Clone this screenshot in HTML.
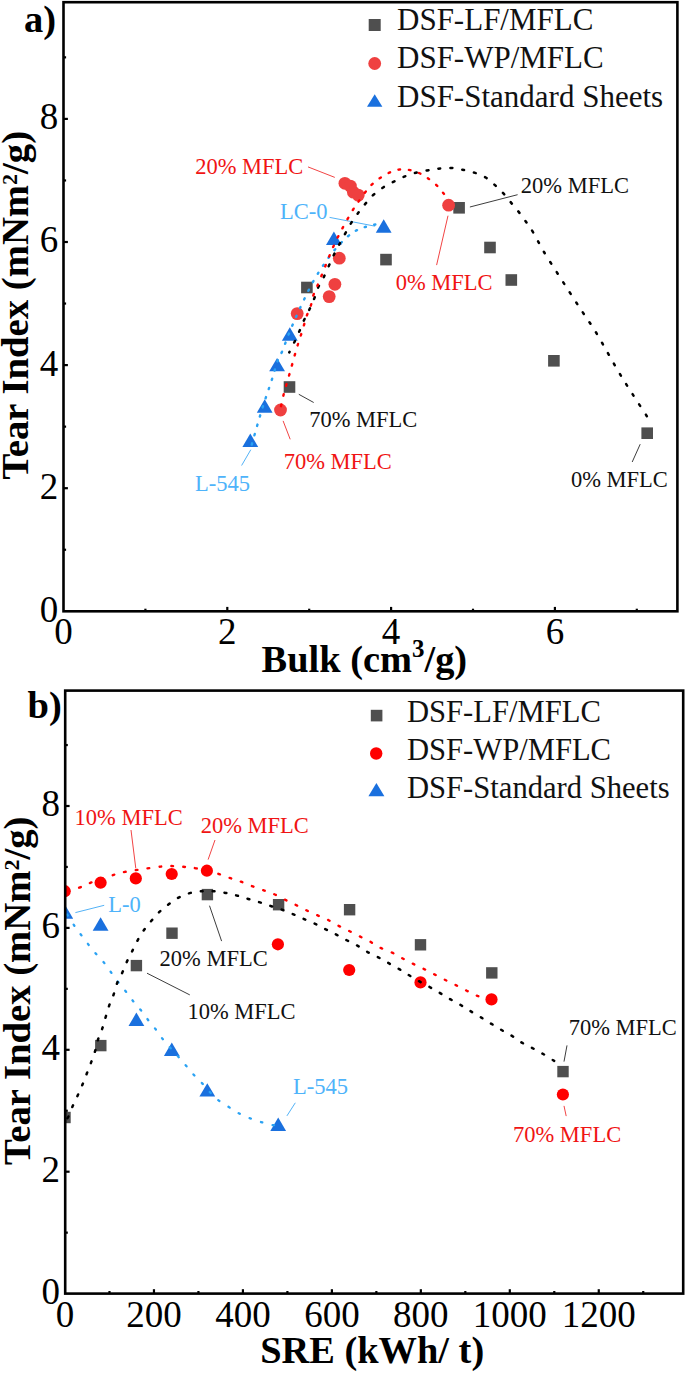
<!DOCTYPE html>
<html><head><meta charset="utf-8"><title>Tear index plots</title>
<style>html,body{margin:0;padding:0;background:#fff;} svg{display:block;}</style>
</head><body>
<svg width="685" height="1373" viewBox="0 0 685 1373" font-family='"Liberation Serif", serif'>
<rect width="685" height="1373" fill="#fff"/>
<g id="plotA">
<line x1="308" y1="166.9" x2="334.8" y2="177.4" stroke="#f03a3a" stroke-width="0.95"/>
<line x1="329.6" y1="217.4" x2="375.1" y2="226.2" stroke="#4aaef5" stroke-width="0.95"/>
<line x1="469.9" y1="207" x2="517.6" y2="194.7" stroke="#333333" stroke-width="0.95"/>
<line x1="448" y1="215.7" x2="436.6" y2="265.1" stroke="#f03a3a" stroke-width="0.95"/>
<line x1="298.8" y1="394.3" x2="313.7" y2="402.5" stroke="#333333" stroke-width="0.95"/>
<line x1="283.1" y1="420.9" x2="290.2" y2="439.3" stroke="#f03a3a" stroke-width="0.95"/>
<line x1="250.8" y1="449.7" x2="241.6" y2="465.5" stroke="#4aaef5" stroke-width="0.95"/>
<line x1="640.2" y1="444.2" x2="632.2" y2="462" stroke="#333333" stroke-width="0.95"/>
<rect x="283.70" y="381.20" width="11.6" height="11.6" fill="#4f4f4f"/>
<rect x="301.10" y="281.70" width="11.6" height="11.6" fill="#4f4f4f"/>
<rect x="380.20" y="253.80" width="11.6" height="11.6" fill="#4f4f4f"/>
<rect x="453.30" y="202.00" width="11.6" height="11.6" fill="#4f4f4f"/>
<rect x="484.20" y="241.70" width="11.6" height="11.6" fill="#4f4f4f"/>
<rect x="505.50" y="274.20" width="11.6" height="11.6" fill="#4f4f4f"/>
<rect x="548.10" y="355.00" width="11.6" height="11.6" fill="#4f4f4f"/>
<rect x="641.40" y="427.40" width="11.6" height="11.6" fill="#4f4f4f"/>
<circle cx="280.50" cy="410.00" r="6.4" fill="#ef4040"/>
<circle cx="297.20" cy="313.60" r="6.4" fill="#ef4040"/>
<circle cx="329.20" cy="296.60" r="6.4" fill="#ef4040"/>
<circle cx="334.90" cy="284.30" r="6.4" fill="#ef4040"/>
<circle cx="339.30" cy="258.20" r="6.4" fill="#ef4040"/>
<circle cx="344.90" cy="183.30" r="6.4" fill="#ef4040"/>
<circle cx="350.40" cy="186.10" r="6.4" fill="#ef4040"/>
<circle cx="353.40" cy="192.20" r="6.4" fill="#ef4040"/>
<circle cx="358.30" cy="195.10" r="6.4" fill="#ef4040"/>
<circle cx="448.60" cy="205.20" r="6.4" fill="#ef4040"/>
<path d="M250.30,433.50 L258.20,446.90 L242.40,446.90 Z" fill="#1a70de"/>
<path d="M264.70,399.30 L272.60,412.70 L256.80,412.70 Z" fill="#1a70de"/>
<path d="M277.10,357.90 L285.00,371.30 L269.20,371.30 Z" fill="#1a70de"/>
<path d="M289.80,327.30 L297.70,340.70 L281.90,340.70 Z" fill="#1a70de"/>
<path d="M333.90,231.60 L341.80,245.00 L326.00,245.00 Z" fill="#1a70de"/>
<path d="M383.70,219.30 L391.60,232.70 L375.80,232.70 Z" fill="#1a70de"/>
<path d="M250.5,449.0 C252.0,443.9 256.8,426.7 259.3,418.3 C261.8,409.9 263.3,405.2 265.4,398.8 C267.5,392.4 269.8,386.2 271.8,379.8 C273.9,373.4 275.9,365.5 277.7,360.7 C279.4,355.9 280.4,355.6 282.3,351.0 C284.2,346.4 286.8,338.9 289.2,333.0 C291.6,327.1 294.2,321.1 296.7,315.5 C299.2,309.9 301.5,304.9 304.3,299.1 C307.1,293.4 310.3,286.7 313.5,281.0 C316.7,275.3 319.8,270.4 323.4,265.1 C327.0,259.8 331.2,253.9 335.2,249.2 C339.2,244.5 343.9,239.9 347.4,236.8 C350.9,233.7 353.2,232.2 356.1,230.6 C359.0,229.0 361.6,228.1 364.8,227.1 C368.0,226.1 372.3,225.1 375.3,224.5 C378.3,223.9 381.7,223.9 383.0,223.8" fill="none" stroke="#2aa2f3" stroke-width="2.4" stroke-dasharray="1.3 8.36" stroke-dashoffset="5.03" stroke-linecap="round"/>
<path d="M289.3,352.4 C290.2,350.6 292.9,345.2 294.6,341.7 C296.3,338.2 297.8,334.8 299.4,331.2 C301.0,327.6 302.4,323.6 304.1,320.0 C305.8,316.4 307.8,312.9 309.5,309.3 C311.2,305.7 313.0,301.7 314.4,298.1 C315.8,294.5 316.5,291.1 318.1,287.6 C319.7,284.1 321.3,282.4 323.9,276.9 C326.5,271.4 330.4,261.9 333.9,254.8 C337.4,247.7 342.1,239.4 344.9,234.2 C347.7,229.0 348.5,227.3 350.8,223.6 C353.1,219.9 356.2,215.6 358.7,212.2 C361.2,208.8 363.2,206.3 365.7,203.4 C368.2,200.5 370.5,197.5 373.6,194.7 C376.7,191.9 380.6,189.1 384.1,186.8 C387.6,184.6 391.1,182.9 394.6,181.2 C398.1,179.4 401.6,177.7 405.1,176.3 C408.6,174.9 412.0,173.8 415.6,172.8 C419.2,171.8 423.4,171.2 427.0,170.5 C430.6,169.8 433.6,169.2 437.5,168.8 C441.4,168.4 446.6,167.8 450.7,167.9 C454.8,168.0 458.1,168.8 462.0,169.6 C465.9,170.4 470.4,171.3 474.3,172.6 C478.2,173.9 482.2,175.4 485.7,177.5 C489.2,179.6 492.2,182.6 495.3,185.4 C498.4,188.2 501.3,191.1 504.1,194.2 C506.9,197.3 509.4,200.6 512.0,203.8 C514.6,207.0 517.4,210.2 519.9,213.4 C522.4,216.6 524.6,219.7 526.9,223.1 C529.2,226.5 531.1,228.9 533.9,233.6 C536.6,238.2 539.5,244.4 543.4,251.0 C547.3,257.6 552.9,266.2 557.4,273.2 C561.9,280.2 565.9,286.5 570.2,293.1 C574.5,299.7 579.0,306.7 583.1,312.9 C587.2,319.1 590.7,323.8 594.8,330.4 C598.9,337.0 603.3,345.2 607.6,352.6 C611.9,360.0 616.3,368.0 620.4,374.8 C624.5,381.6 627.6,386.5 632.1,393.5 C636.6,400.5 644.8,413.0 647.3,416.9" fill="none" stroke="#000000" stroke-width="2.5" stroke-dasharray="1.9 10.09" stroke-dashoffset="1.10" stroke-linecap="round"/>
<path d="M280.8,407.0 C281.3,404.8 282.9,397.4 283.8,393.7 C284.7,390.0 285.4,388.1 286.4,384.7 C287.4,381.3 288.7,376.7 289.7,373.3 C290.7,369.9 291.3,367.4 292.2,364.3 C293.1,361.2 294.0,357.7 294.9,354.6 C295.8,351.5 296.6,348.9 297.5,345.8 C298.4,342.7 299.5,339.6 300.6,336.1 C301.7,332.6 303.1,328.1 304.1,324.6 C305.2,321.1 305.8,318.4 306.9,315.3 C308.0,312.2 309.6,309.3 310.7,306.0 C311.8,302.7 312.1,299.0 313.2,295.7 C314.3,292.4 315.2,291.0 317.3,286.0 C319.4,281.0 322.8,272.4 325.5,265.7 C328.2,259.0 330.7,252.3 333.6,246.0 C336.5,239.7 339.6,233.5 342.8,227.6 C346.0,221.7 350.1,214.6 352.6,210.4 C355.1,206.2 355.3,206.1 357.8,202.6 C360.3,199.1 364.5,192.9 367.4,189.4 C370.3,185.9 372.8,183.6 375.3,181.5 C377.8,179.4 379.7,178.2 382.3,176.6 C384.9,175.0 388.1,173.1 391.1,171.9 C394.1,170.7 397.2,169.7 400.4,169.4 C403.6,169.1 406.8,169.4 410.1,170.1 C413.4,170.8 417.2,172.2 420.1,173.5 C423.0,174.8 424.8,176.1 427.4,177.9 C430.0,179.7 433.2,182.1 435.8,184.5 C438.4,186.9 440.7,189.8 442.8,192.4 C444.9,195.0 447.3,198.7 448.2,200.0" fill="none" stroke="#ff0000" stroke-width="2.4" stroke-dasharray="1.6 8.87" stroke-dashoffset="9.45" stroke-linecap="round"/>
<text x="195.2" y="173.6" font-size="22.5" fill="#f01414" text-anchor="start" font-weight="normal" >20% MFLC</text>
<text x="279.9" y="218.7" font-size="22.5" fill="#4eb3fa" text-anchor="start" font-weight="normal" >LC-0</text>
<text x="520.8" y="192.5" font-size="22.5" fill="#111111" text-anchor="start" font-weight="normal" >20% MFLC</text>
<text x="395.7" y="289.8" font-size="22.5" fill="#f01414" text-anchor="start" font-weight="normal" >0% MFLC</text>
<text x="309.2" y="426.8" font-size="22.5" fill="#111111" text-anchor="start" font-weight="normal" >70% MFLC</text>
<text x="283.7" y="469.2" font-size="22.5" fill="#f01414" text-anchor="start" font-weight="normal" >70% MFLC</text>
<text x="195.1" y="490.6" font-size="22.5" fill="#4eb3fa" text-anchor="start" font-weight="normal" >L-545</text>
<text x="570.9" y="486.6" font-size="22.5" fill="#111111" text-anchor="start" font-weight="normal" >0% MFLC</text>
<rect x="368.70" y="19.00" width="12" height="12" fill="#4f4f4f"/>
<circle cx="374.70" cy="63.50" r="6.4" fill="#ef4040"/>
<path d="M374.70,94.20 L382.40,106.80 L367.00,106.80 Z" fill="#1a70de"/>
<text x="397" y="30" font-size="31" fill="#111111" text-anchor="start" font-weight="normal" >DSF-LF/MFLC</text>
<text x="397" y="68.1" font-size="31" fill="#111111" text-anchor="start" font-weight="normal" >DSF-WP/MFLC</text>
<text x="397" y="107" font-size="31" fill="#111111" text-anchor="start" font-weight="normal" >DSF-Standard Sheets</text>
<rect x="63.5" y="2.2" width="613.9" height="609.1" fill="none" stroke="#000" stroke-width="2.6"/>
<line x1="63.5" y1="549.75" x2="66.1" y2="549.75" stroke="#000" stroke-width="2.2"/>
<line x1="63.5" y1="488.20" x2="67.9" y2="488.20" stroke="#000" stroke-width="2.2"/>
<line x1="63.5" y1="426.65" x2="66.1" y2="426.65" stroke="#000" stroke-width="2.2"/>
<line x1="63.5" y1="365.10" x2="67.9" y2="365.10" stroke="#000" stroke-width="2.2"/>
<line x1="63.5" y1="303.55" x2="66.1" y2="303.55" stroke="#000" stroke-width="2.2"/>
<line x1="63.5" y1="242.00" x2="67.9" y2="242.00" stroke="#000" stroke-width="2.2"/>
<line x1="63.5" y1="180.45" x2="66.1" y2="180.45" stroke="#000" stroke-width="2.2"/>
<line x1="63.5" y1="118.90" x2="67.9" y2="118.90" stroke="#000" stroke-width="2.2"/>
<line x1="63.5" y1="57.35" x2="66.1" y2="57.35" stroke="#000" stroke-width="2.2"/>
<line x1="145.40" y1="611.3" x2="145.40" y2="608.6999999999999" stroke="#000" stroke-width="2.2"/>
<line x1="227.30" y1="611.3" x2="227.30" y2="606.9" stroke="#000" stroke-width="2.2"/>
<line x1="309.20" y1="611.3" x2="309.20" y2="608.6999999999999" stroke="#000" stroke-width="2.2"/>
<line x1="391.10" y1="611.3" x2="391.10" y2="606.9" stroke="#000" stroke-width="2.2"/>
<line x1="473.00" y1="611.3" x2="473.00" y2="608.6999999999999" stroke="#000" stroke-width="2.2"/>
<line x1="554.90" y1="611.3" x2="554.90" y2="606.9" stroke="#000" stroke-width="2.2"/>
<line x1="636.80" y1="611.3" x2="636.80" y2="608.6999999999999" stroke="#000" stroke-width="2.2"/>
<text x="58.2" y="621.7" font-size="37" fill="#000" text-anchor="end" font-weight="normal" >0</text>
<text x="58.2" y="498.6" font-size="37" fill="#000" text-anchor="end" font-weight="normal" >2</text>
<text x="58.2" y="375.5" font-size="37" fill="#000" text-anchor="end" font-weight="normal" >4</text>
<text x="58.2" y="252.4" font-size="37" fill="#000" text-anchor="end" font-weight="normal" >6</text>
<text x="58.2" y="129.3" font-size="37" fill="#000" text-anchor="end" font-weight="normal" >8</text>
<text x="63.5" y="644.3" font-size="37" fill="#000" text-anchor="middle" font-weight="normal" >0</text>
<text x="227.3" y="644.3" font-size="37" fill="#000" text-anchor="middle" font-weight="normal" >2</text>
<text x="391.1" y="644.3" font-size="37" fill="#000" text-anchor="middle" font-weight="normal" >4</text>
<text x="554.9" y="644.3" font-size="37" fill="#000" text-anchor="middle" font-weight="normal" >6</text>
<text x="23.9" y="32" font-size="38.5" font-weight="bold" fill="#000">a)</text>
<text x="261.6" y="671.8" font-size="38.4" font-weight="bold" fill="#000">Bulk (cm<tspan font-size="25" dy="-15.1">3</tspan><tspan dy="15.1">/g)</tspan></text>
<text transform="translate(28.1,305.2) rotate(-90)" font-size="38.7" font-weight="bold" text-anchor="middle" fill="#000">Tear Index (mNm<tspan font-size="22" dy="-11.2">2</tspan><tspan dy="11.2">/g)</tspan></text>
</g>
<clipPath id="cb"><rect x="65.2" y="690.6" width="618" height="603"/></clipPath>
<g id="plotB">
<line x1="131" y1="830" x2="135.8" y2="868.4" stroke="#f03a3a" stroke-width="0.95"/>
<line x1="215" y1="840" x2="208.1" y2="859.6" stroke="#f03a3a" stroke-width="0.95"/>
<line x1="75.4" y1="912.6" x2="104.2" y2="905.3" stroke="#4aaef5" stroke-width="0.95"/>
<line x1="209.5" y1="905.7" x2="221.6" y2="941.1" stroke="#333333" stroke-width="0.95"/>
<line x1="147" y1="973.2" x2="189.8" y2="994.9" stroke="#333333" stroke-width="0.95"/>
<line x1="286.9" y1="1115.9" x2="295.3" y2="1102.8" stroke="#4aaef5" stroke-width="0.95"/>
<line x1="567" y1="1045.4" x2="564" y2="1061.6" stroke="#333333" stroke-width="0.95"/>
<line x1="564" y1="1105.9" x2="566.2" y2="1116.1" stroke="#f03a3a" stroke-width="0.95"/>
<g clip-path="url(#cb)">
<rect x="59.30" y="1111.80" width="11.4" height="11.4" fill="#4f4f4f"/>
<rect x="95.10" y="1039.90" width="11.4" height="11.4" fill="#4f4f4f"/>
<rect x="130.70" y="959.90" width="11.4" height="11.4" fill="#4f4f4f"/>
<rect x="166.30" y="927.50" width="11.4" height="11.4" fill="#4f4f4f"/>
<rect x="201.70" y="888.90" width="11.4" height="11.4" fill="#4f4f4f"/>
<rect x="272.90" y="899.00" width="11.4" height="11.4" fill="#4f4f4f"/>
<rect x="343.90" y="904.00" width="11.4" height="11.4" fill="#4f4f4f"/>
<rect x="414.80" y="939.10" width="11.4" height="11.4" fill="#4f4f4f"/>
<rect x="486.10" y="967.20" width="11.4" height="11.4" fill="#4f4f4f"/>
<rect x="557.30" y="1065.90" width="11.4" height="11.4" fill="#4f4f4f"/>
<circle cx="64.70" cy="891.20" r="6.1" fill="#ff0000"/>
<circle cx="100.60" cy="882.70" r="6.1" fill="#ff0000"/>
<circle cx="135.80" cy="878.40" r="6.1" fill="#ff0000"/>
<circle cx="171.70" cy="874.00" r="6.1" fill="#ff0000"/>
<circle cx="206.90" cy="870.70" r="6.1" fill="#ff0000"/>
<circle cx="277.90" cy="944.30" r="6.1" fill="#ff0000"/>
<circle cx="349.20" cy="970.00" r="6.1" fill="#ff0000"/>
<circle cx="420.50" cy="982.40" r="6.1" fill="#ff0000"/>
<circle cx="491.50" cy="999.40" r="6.1" fill="#ff0000"/>
<circle cx="562.90" cy="1094.50" r="6.1" fill="#ff0000"/>
<path d="M65.30,905.30 L73.20,918.70 L57.40,918.70 Z" fill="#1a70de"/>
<path d="M100.60,917.30 L108.50,930.70 L92.70,930.70 Z" fill="#1a70de"/>
<path d="M136.40,1012.60 L144.30,1026.00 L128.50,1026.00 Z" fill="#1a70de"/>
<path d="M171.80,1042.60 L179.70,1056.00 L163.90,1056.00 Z" fill="#1a70de"/>
<path d="M207.30,1083.20 L215.20,1096.60 L199.40,1096.60 Z" fill="#1a70de"/>
<path d="M278.20,1117.50 L286.10,1130.90 L270.30,1130.90 Z" fill="#1a70de"/>
<path d="M65.0,911.0 C66.5,913.4 71.3,921.2 74.0,925.2 C76.7,929.2 78.6,931.6 81.0,934.8 C83.4,938.0 85.8,941.2 88.3,944.4 C90.8,947.6 93.6,950.9 96.2,954.0 C98.8,957.1 101.6,959.7 104.1,962.8 C106.6,965.9 108.8,969.2 111.1,972.4 C113.4,975.6 115.6,978.8 118.1,982.0 C120.6,985.2 123.5,988.5 126.0,991.7 C128.5,994.9 130.5,997.9 133.0,1001.0 C135.5,1004.1 138.3,1007.0 140.8,1010.1 C143.3,1013.2 145.4,1016.5 147.9,1019.7 C150.4,1022.9 153.2,1026.1 155.7,1029.3 C158.2,1032.5 160.2,1035.9 162.7,1039.0 C165.2,1042.1 167.9,1045.0 170.5,1048.0 C173.1,1051.0 175.8,1053.8 178.4,1056.8 C181.0,1059.8 183.7,1062.9 186.3,1066.0 C188.9,1069.1 191.6,1072.4 194.2,1075.2 C196.8,1078.0 199.5,1080.5 202.0,1083.1 C204.5,1085.7 206.6,1088.4 209.0,1091.0 C211.4,1093.6 213.3,1096.2 216.5,1098.8 C219.7,1101.4 224.6,1104.3 228.3,1106.7 C232.0,1109.1 235.1,1111.3 238.8,1113.3 C242.5,1115.3 246.7,1117.0 250.6,1118.5 C254.5,1120.0 258.8,1121.4 262.5,1122.5 C266.2,1123.6 270.4,1124.7 273.0,1125.1 C275.6,1125.5 277.2,1125.0 278.0,1125.0" fill="none" stroke="#2aa2f3" stroke-width="2.3" stroke-dasharray="1.4 10.60" stroke-dashoffset="7.95" stroke-linecap="round"/>
<path d="M65.0,1121.0 C65.5,1120.3 66.8,1119.5 68.1,1117.1 C69.3,1114.7 70.9,1110.2 72.5,1106.6 C74.1,1102.9 76.1,1099.0 77.8,1095.2 C79.5,1091.5 81.2,1087.8 82.7,1084.1 C84.2,1080.4 85.5,1077.0 86.9,1073.3 C88.3,1069.6 89.9,1065.7 91.3,1061.9 C92.7,1058.1 94.2,1054.1 95.3,1050.4 C96.4,1046.7 96.7,1043.6 97.9,1039.9 C99.1,1036.2 101.0,1032.4 102.3,1028.5 C103.6,1024.6 104.6,1020.6 105.8,1016.7 C107.0,1012.8 108.0,1008.9 109.3,1005.2 C110.6,1001.5 112.4,998.0 113.7,994.3 C115.0,990.6 115.8,986.5 117.2,982.9 C118.7,979.2 120.8,975.9 122.4,972.4 C124.0,968.9 125.2,965.4 126.8,961.9 C128.4,958.4 130.3,954.9 132.1,951.4 C133.8,947.9 135.3,944.5 137.3,940.9 C139.3,937.3 141.9,933.0 144.2,929.7 C146.5,926.4 148.7,923.9 151.2,921.0 C153.7,918.1 156.2,915.0 159.1,912.2 C162.0,909.4 165.3,906.8 168.7,904.3 C172.0,901.8 175.5,899.2 179.2,897.3 C182.8,895.4 186.6,893.9 190.6,892.9 C194.6,891.9 199.1,891.5 202.9,891.2 C206.7,890.9 209.6,890.9 213.4,891.2 C217.2,891.5 221.6,892.1 225.6,892.9 C229.6,893.6 233.6,894.7 237.5,895.7 C241.4,896.8 245.3,898.0 249.2,899.2 C253.1,900.4 257.2,901.5 260.9,902.7 C264.6,903.9 267.9,905.0 271.4,906.2 C274.9,907.4 278.2,908.3 281.9,909.7 C285.6,911.1 289.9,912.8 293.6,914.4 C297.3,916.0 300.4,917.5 304.1,919.1 C307.8,920.7 312.1,922.5 315.8,924.2 C319.5,926.0 322.8,927.8 326.3,929.6 C329.8,931.4 333.3,933.1 336.8,934.9 C340.3,936.7 343.8,938.7 347.3,940.5 C350.8,942.3 354.5,944.0 357.8,945.9 C361.1,947.8 363.7,949.8 367.2,951.8 C370.7,953.8 375.2,955.7 378.8,957.6 C382.4,959.5 385.3,961.3 388.7,963.2 C392.1,965.1 395.9,967.2 399.2,969.1 C402.5,971.0 405.2,972.9 408.5,974.9 C411.8,976.9 415.5,979.2 419.0,981.2 C422.5,983.2 426.1,985.0 429.6,987.0 C433.1,989.0 436.6,991.0 440.1,993.1 C443.6,995.2 447.1,997.4 450.6,999.4 C454.1,1001.4 457.8,1003.3 461.1,1005.3 C464.4,1007.2 467.1,1009.1 470.4,1011.1 C473.7,1013.1 477.5,1015.3 481.0,1017.4 C484.5,1019.5 488.0,1021.8 491.5,1023.9 C495.0,1026.0 498.5,1028.2 502.0,1030.3 C505.5,1032.4 509.2,1034.2 512.5,1036.3 C515.8,1038.3 518.5,1040.6 521.8,1042.6 C525.1,1044.6 528.8,1046.2 532.4,1048.1 C536.0,1050.0 539.6,1051.9 543.2,1054.0 C546.8,1056.1 551.4,1059.1 554.0,1060.8 C556.6,1062.5 558.2,1063.5 559.0,1064.0" fill="none" stroke="#000000" stroke-width="2.5" stroke-dasharray="1.9 10.03" stroke-dashoffset="7.97" stroke-linecap="round"/>
<path d="M65.0,891.0 C67.5,890.4 75.4,888.9 79.7,887.5 C84.0,886.1 85.0,884.8 90.7,882.7 C96.4,880.6 108.2,876.6 113.9,874.8 C119.6,873.0 120.3,872.8 124.9,871.9 C129.5,871.0 135.5,870.2 141.5,869.3 C147.5,868.4 155.4,867.1 160.8,866.6 C166.2,866.1 169.9,866.0 174.0,866.1 C178.1,866.2 181.5,866.6 185.3,867.0 C189.1,867.4 191.7,867.4 196.7,868.4 C201.7,869.4 209.5,871.2 215.1,872.8 C220.7,874.4 226.2,876.7 230.5,878.2 C234.8,879.7 237.3,880.3 241.0,881.7 C244.7,883.1 248.8,884.9 252.7,886.4 C256.6,887.9 260.7,889.2 264.4,890.6 C268.1,892.0 271.4,893.0 274.9,894.5 C278.4,896.0 281.9,898.1 285.4,899.9 C288.9,901.6 292.2,903.2 295.9,905.0 C299.6,906.8 303.9,909.1 307.6,910.9 C311.3,912.7 314.6,914.0 318.1,915.6 C321.6,917.2 325.1,918.5 328.6,920.2 C332.1,922.0 335.6,924.3 339.1,926.1 C342.6,927.9 346.1,929.5 349.6,931.2 C353.1,933.0 356.9,934.9 360.2,936.6 C363.5,938.3 366.4,939.5 369.5,941.2 C372.6,943.0 375.0,945.2 378.8,947.1 C382.6,949.0 388.2,950.8 392.2,952.7 C396.2,954.6 399.2,956.6 402.7,958.5 C406.2,960.4 409.5,962.1 413.2,963.9 C416.9,965.7 421.2,967.7 424.9,969.5 C428.6,971.3 431.9,973.1 435.4,974.9 C438.9,976.7 442.4,978.5 445.9,980.3 C449.4,982.0 452.9,983.6 456.4,985.4 C459.9,987.1 463.4,989.0 466.9,990.8 C470.4,992.5 473.4,994.5 477.5,995.9 C481.6,997.3 489.2,998.8 491.5,999.4" fill="none" stroke="#ff0000" stroke-width="2.4" stroke-dasharray="1.7 10.23" stroke-dashoffset="9.42" stroke-linecap="round"/>
</g>
<text x="74.6" y="824.5" font-size="22.5" fill="#f01414" text-anchor="start" font-weight="normal" >10% MFLC</text>
<text x="200.7" y="833.1" font-size="22.5" fill="#f01414" text-anchor="start" font-weight="normal" >20% MFLC</text>
<text x="108.2" y="912.1" font-size="22.5" fill="#4eb3fa" text-anchor="start" font-weight="normal" >L-0</text>
<text x="159.6" y="965.9" font-size="22.5" fill="#111111" text-anchor="start" font-weight="normal" >20% MFLC</text>
<text x="187.4" y="1019" font-size="22.5" fill="#111111" text-anchor="start" font-weight="normal" >10% MFLC</text>
<text x="293" y="1093.6" font-size="22.5" fill="#4eb3fa" text-anchor="start" font-weight="normal" >L-545</text>
<text x="568.7" y="1035.1" font-size="22.5" fill="#111111" text-anchor="start" font-weight="normal" >70% MFLC</text>
<text x="513" y="1142.3" font-size="22.5" fill="#f01414" text-anchor="start" font-weight="normal" >70% MFLC</text>
<rect x="370.80" y="709.80" width="11.6" height="11.6" fill="#4f4f4f"/>
<circle cx="376.20" cy="753.50" r="6.2" fill="#ff0000"/>
<path d="M376.40,782.90 L384.40,796.30 L368.40,796.30 Z" fill="#1a70de"/>
<text x="407" y="721.5" font-size="30.6" fill="#111111" text-anchor="start" font-weight="normal" >DSF-LF/MFLC</text>
<text x="407" y="760.1" font-size="30.6" fill="#111111" text-anchor="start" font-weight="normal" >DSF-WP/MFLC</text>
<text x="407" y="797.9" font-size="30.6" fill="#111111" text-anchor="start" font-weight="normal" >DSF-Standard Sheets</text>
<rect x="65.2" y="690.6" width="618.0" height="603.0" fill="none" stroke="#000" stroke-width="2.6"/>
<line x1="65.2" y1="1232.65" x2="67.8" y2="1232.65" stroke="#000" stroke-width="2.2"/>
<line x1="65.2" y1="1171.70" x2="69.60000000000001" y2="1171.70" stroke="#000" stroke-width="2.2"/>
<line x1="65.2" y1="1110.75" x2="67.8" y2="1110.75" stroke="#000" stroke-width="2.2"/>
<line x1="65.2" y1="1049.80" x2="69.60000000000001" y2="1049.80" stroke="#000" stroke-width="2.2"/>
<line x1="65.2" y1="988.85" x2="67.8" y2="988.85" stroke="#000" stroke-width="2.2"/>
<line x1="65.2" y1="927.90" x2="69.60000000000001" y2="927.90" stroke="#000" stroke-width="2.2"/>
<line x1="65.2" y1="866.95" x2="67.8" y2="866.95" stroke="#000" stroke-width="2.2"/>
<line x1="65.2" y1="806.00" x2="69.60000000000001" y2="806.00" stroke="#000" stroke-width="2.2"/>
<line x1="65.2" y1="745.05" x2="67.8" y2="745.05" stroke="#000" stroke-width="2.2"/>
<line x1="109.48" y1="1293.6" x2="109.48" y2="1291.0" stroke="#000" stroke-width="2.2"/>
<line x1="153.96" y1="1293.6" x2="153.96" y2="1289.1999999999998" stroke="#000" stroke-width="2.2"/>
<line x1="198.44" y1="1293.6" x2="198.44" y2="1291.0" stroke="#000" stroke-width="2.2"/>
<line x1="242.92" y1="1293.6" x2="242.92" y2="1289.1999999999998" stroke="#000" stroke-width="2.2"/>
<line x1="287.40" y1="1293.6" x2="287.40" y2="1291.0" stroke="#000" stroke-width="2.2"/>
<line x1="331.88" y1="1293.6" x2="331.88" y2="1289.1999999999998" stroke="#000" stroke-width="2.2"/>
<line x1="376.36" y1="1293.6" x2="376.36" y2="1291.0" stroke="#000" stroke-width="2.2"/>
<line x1="420.84" y1="1293.6" x2="420.84" y2="1289.1999999999998" stroke="#000" stroke-width="2.2"/>
<line x1="465.32" y1="1293.6" x2="465.32" y2="1291.0" stroke="#000" stroke-width="2.2"/>
<line x1="509.80" y1="1293.6" x2="509.80" y2="1289.1999999999998" stroke="#000" stroke-width="2.2"/>
<line x1="554.28" y1="1293.6" x2="554.28" y2="1291.0" stroke="#000" stroke-width="2.2"/>
<line x1="598.76" y1="1293.6" x2="598.76" y2="1289.1999999999998" stroke="#000" stroke-width="2.2"/>
<line x1="643.24" y1="1293.6" x2="643.24" y2="1291.0" stroke="#000" stroke-width="2.2"/>
<text x="60" y="1304.0" font-size="37" fill="#000" text-anchor="end" font-weight="normal" >0</text>
<text x="60" y="1182.1" font-size="37" fill="#000" text-anchor="end" font-weight="normal" >2</text>
<text x="60" y="1060.2" font-size="37" fill="#000" text-anchor="end" font-weight="normal" >4</text>
<text x="60" y="938.3" font-size="37" fill="#000" text-anchor="end" font-weight="normal" >6</text>
<text x="60" y="816.4" font-size="37" fill="#000" text-anchor="end" font-weight="normal" >8</text>
<text x="65.0" y="1327.2" font-size="37" fill="#000" text-anchor="middle" font-weight="normal" >0</text>
<text x="154.0" y="1327.2" font-size="37" fill="#000" text-anchor="middle" font-weight="normal" >200</text>
<text x="242.9" y="1327.2" font-size="37" fill="#000" text-anchor="middle" font-weight="normal" >400</text>
<text x="331.9" y="1327.2" font-size="37" fill="#000" text-anchor="middle" font-weight="normal" >600</text>
<text x="420.8" y="1327.2" font-size="37" fill="#000" text-anchor="middle" font-weight="normal" >800</text>
<text x="509.8" y="1327.2" font-size="37" fill="#000" text-anchor="middle" font-weight="normal" >1000</text>
<text x="598.8" y="1327.2" font-size="37" fill="#000" text-anchor="middle" font-weight="normal" >1200</text>
<text x="27.5" y="717.6" font-size="38.5" font-weight="bold" fill="#000">b)</text>
<text x="260.2" y="1363.4" font-size="38.4" fill="#000" text-anchor="start" font-weight="bold" >SRE (kWh/ t)</text>
<text transform="translate(29.9,990.8) rotate(-90)" font-size="38.7" font-weight="bold" text-anchor="middle" fill="#000">Tear Index (mNm<tspan font-size="22" dy="-11.2">2</tspan><tspan dy="11.2">/g)</tspan></text>
</g>
</svg>
</body></html>
